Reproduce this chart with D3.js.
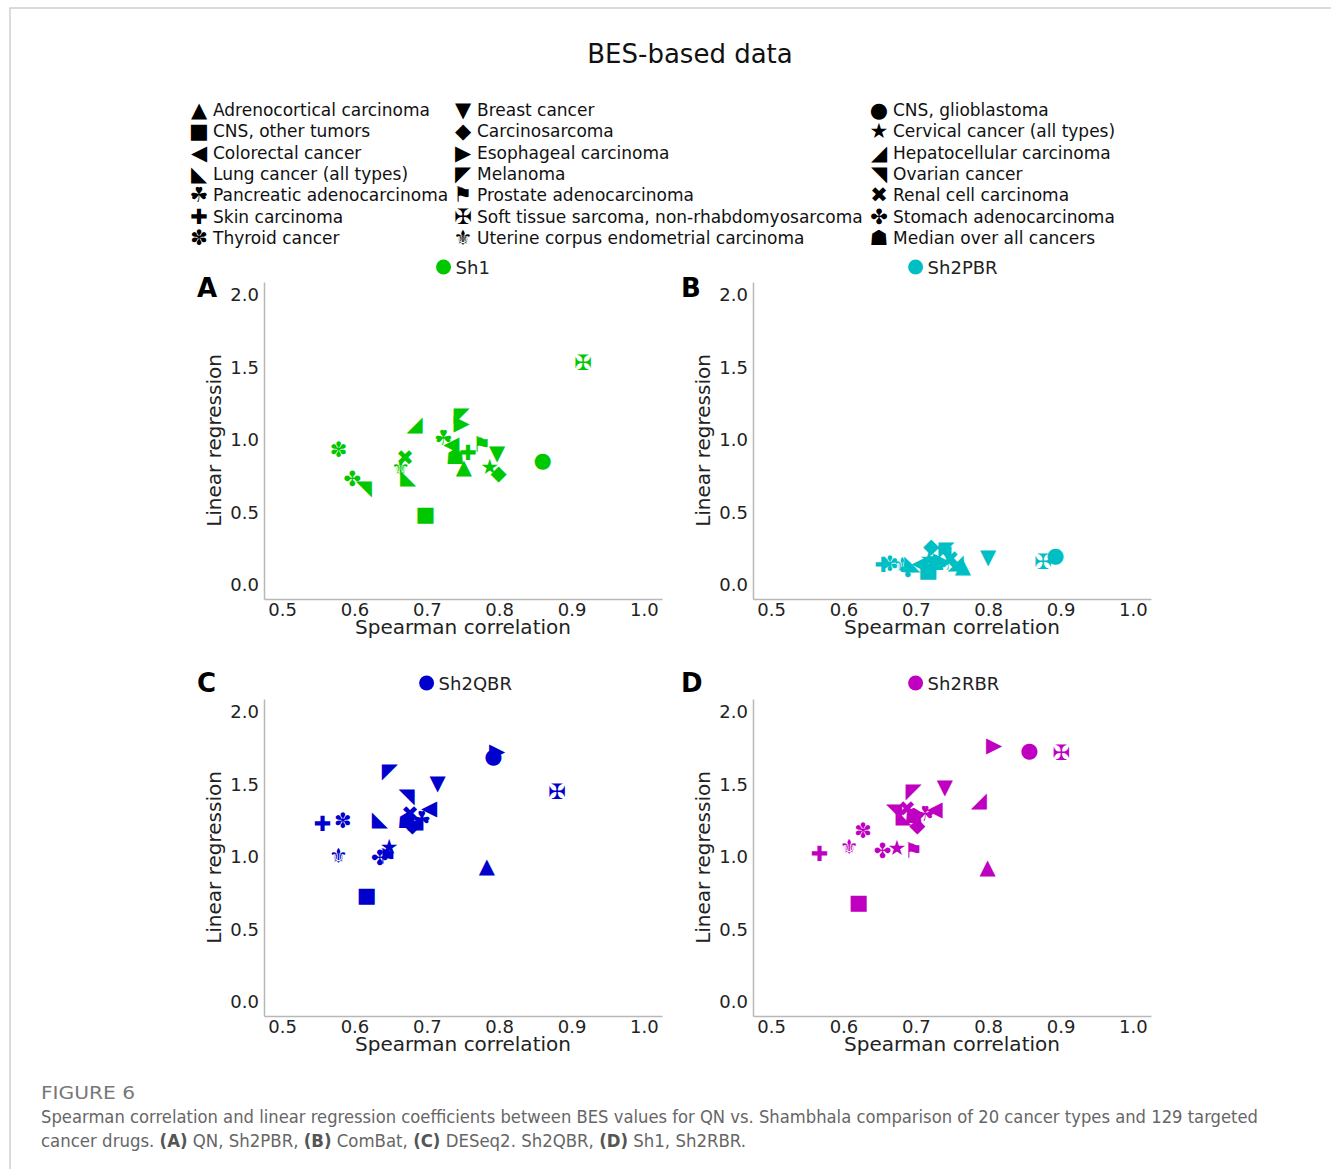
<!DOCTYPE html>
<html>
<head>
<meta charset="utf-8">
<script src="https://cdn.jsdelivr.net/npm/d3@7"></script>
<style>
  body { margin: 0; background: #fff; }
  text { font-family: "DejaVu Sans", sans-serif; }
</style>
</head>
<body>
<svg></svg>
<script>
// cancer types, in legend order (row by row, 3 per row)
let cancerTypes = [
  'Adrenocortical carcinoma', 'Breast cancer', 'CNS, glioblastoma',
  'CNS, other tumors', 'Carcinosarcoma', 'Cervical cancer (all types)',
  'Colorectal cancer', 'Esophageal carcinoma', 'Hepatocellular carcinoma',
  'Lung cancer (all types)', 'Melanoma', 'Ovarian cancer',
  'Pancreatic adenocarcinoma', 'Prostate adenocarcinoma', 'Renal cell carcinoma',
  'Skin carcinoma', 'Soft tissue sarcoma, non-rhabdomyosarcoma', 'Stomach adenocarcinoma',
  'Thyroid cancer', 'Uterine corpus endometrial carcinoma', 'Median over all cancers'
]
// one glyph per cancer type
let markerGlyphs = ['▲', '▼', '●', '■', '◆', '★', '◀', '▶', '◢', '◣', '◤', '◥',
                    '☘', '⚑', '✖', '✚', '✠', '✤', '✽', '⚜', '☗']

let seriesNames = ['Sh1', 'Sh2PBR', 'Sh2QBR', 'Sh2RBR']
let panelLetters = ['A', 'B', 'C', 'D']
let seriesColors = ['#00c800', '#00bfc4', '#0000cd', '#c000c0']

let xTicks = [0.5, 0.6, 0.7, 0.8, 0.9, 1.0]
let yTicks = [0.0, 0.5, 1.0, 1.5, 2.0]

// spearman (x) and linear regression (y) values per series
let sh1Spearman   = [0.751, 0.797, 0.860, 0.698, 0.799, 0.787, 0.734, 0.748, 0.683, 0.674, 0.748, 0.613, 0.723, 0.776, 0.670, 0.757, 0.916, 0.597, 0.578, 0.664, 0.739]
let sh1Regression = [0.816, 0.908, 0.862, 0.490, 0.775, 0.811, 0.970, 1.115, 1.110, 0.747, 1.172, 0.667, 1.012, 0.966, 0.878, 0.912, 1.533, 0.731, 0.931, 0.810, 0.885]

let sh2pbrSpearman   = [0.765, 0.800, 0.893, 0.717, 0.721, 0.718, 0.705, 0.735, 0.755, 0.695, 0.742, 0.738, 0.745, 0.728, 0.748, 0.655, 0.876, 0.689, 0.664, 0.681, 0.727]
let sh2pbrRegression = [0.130, 0.190, 0.210, 0.100, 0.270, 0.180, 0.150, 0.170, 0.160, 0.150, 0.250, 0.220, 0.150, 0.140, 0.180, 0.140, 0.160, 0.100, 0.145, 0.140, 0.150]

let sh2qbrSpearman   = [0.783, 0.715, 0.792, 0.617, 0.680, 0.648, 0.703, 0.797, 0.684, 0.635, 0.649, 0.672, 0.693, 0.646, 0.677, 0.556, 0.880, 0.635, 0.584, 0.578, 0.672]
let sh2qbrRegression = [0.940, 1.510, 1.700, 0.740, 1.220, 1.070, 1.340, 1.730, 1.250, 1.260, 1.590, 1.420, 1.260, 1.000, 1.300, 1.230, 1.450, 0.990, 1.250, 1.010, 1.250]

let sh2rbrSpearman   = [0.799, 0.740, 0.857, 0.621, 0.702, 0.674, 0.726, 0.808, 0.787, 0.683, 0.697, 0.670, 0.713, 0.697, 0.688, 0.567, 0.901, 0.654, 0.627, 0.608, 0.697]
let sh2rbrRegression = [0.929, 1.481, 1.736, 0.692, 1.221, 1.060, 1.329, 1.772, 1.393, 1.280, 1.458, 1.320, 1.297, 1.043, 1.330, 1.021, 1.715, 1.041, 1.181, 1.071, 1.280]

let spearmanSets = [sh1Spearman, sh2pbrSpearman, sh2qbrSpearman, sh2rbrSpearman]
let regressionSets = [sh1Regression, sh2pbrRegression, sh2qbrRegression, sh2rbrRegression]

let width = 1331
let height = 1169
let panelWidth = 398
let panelHeight = 317
// axis left/top corner of each panel
let panelLefts = [264, 753, 264, 753]
let panelTops = [282, 282, 699, 699]
let letterY = [297, 297, 692, 692]

let svg = d3.select('svg')

let drawCanvas = () => {
  svg.attr('width', width).attr('height', height)
  svg.append('rect').attr('width', width).attr('height', height).attr('fill', '#fff')
  // frame of the figure
  svg.append('path')
     .attr('d', 'M10,' + height + ' V8 H' + width)
     .attr('fill', 'none')
     .attr('stroke', '#cfcfcf')
     .attr('stroke-width', 1.5)

  svg.append('text')
     .attr('x', 690).attr('y', 63)
     .attr('text-anchor', 'middle')
     .attr('font-size', 26)
     .attr('fill', '#111')
     .text('BES-based data')
}

let drawLegend = () => {
  let colX = [199, 463, 879]
  let legend = svg.append('g')
  cancerTypes.forEach((name, i) => {
    let col = i % 3
    let row = Math.floor(i / 3)
    let cy = 110 + row * 21.3
    legend.append('text')
          .attr('x', colX[col]).attr('y', cy)
          .attr('text-anchor', 'middle')
          .attr('dominant-baseline', 'central')
          .attr('font-size', 21)
          .attr('fill', '#000')
          .text(markerGlyphs[i])
    legend.append('text')
          .attr('x', colX[col] + 14).attr('y', cy + 6)
          .attr('font-size', 17)
          .attr('fill', '#111')
          .text(name)
  })
}

let drawPanel = (p) => {
  let left = panelLefts[p]
  let top = panelTops[p]
  let color = seriesColors[p]

  let xScale = d3.scaleLinear()
                 .domain([0.475, 1.025])
                 .range([left, left + panelWidth])
  let yScale = d3.scaleLinear()
                 .domain([-0.097, 2.09])
                 .range([top + panelHeight, top])

  let xAxis = d3.axisBottom(xScale).tickValues(xTicks).tickFormat(d3.format('.1f'))
                .tickSize(0).tickSizeOuter(0).tickPadding(4)
  let yAxis = d3.axisLeft(yScale).tickValues(yTicks).tickFormat(d3.format('.1f'))
                .tickSize(0).tickSizeOuter(0).tickPadding(5)

  let gx = svg.append('g')
              .attr('transform', 'translate(0,' + (top + panelHeight) + ')')
              .call(xAxis)
  let gy = svg.append('g')
              .attr('transform', 'translate(' + left + ',0)')
              .call(yAxis)
  ;[gx, gy].forEach((g) => {
    g.select('.domain').attr('stroke', '#b8b8b8').attr('stroke-width', 1.5)
    g.selectAll('text').attr('font-size', 18).attr('fill', '#222')
     .attr('font-family', '"DejaVu Sans", sans-serif')
  })

  svg.append('text')
     .attr('x', left + panelWidth / 2).attr('y', top + panelHeight + 35)
     .attr('text-anchor', 'middle')
     .attr('font-size', 20).attr('fill', '#222')
     .text('Spearman correlation')
  svg.append('text')
     .attr('transform', 'translate(' + (left - 43) + ',' + (top + panelHeight / 2) + ') rotate(-90)')
     .attr('text-anchor', 'middle')
     .attr('font-size', 20).attr('fill', '#222')
     .text('Linear regression')

  // panel letter
  svg.append('text')
     .attr('x', left - (p % 2 === 0 ? 67 : 72)).attr('y', letterY[p])
     .attr('font-family', '"Liberation Sans", Arial, sans-serif')
     .attr('font-weight', 'bold')
     .attr('font-size', 26).attr('fill', '#000')
     .text(panelLetters[p])

  // series label on top
  let labelY = p < 2 ? 267 : 683
  let cx = left + panelWidth / 2
  let nameWidth = seriesNames[p].length * 11.3
  let startX = cx - (nameWidth + 19) / 2
  svg.append('circle')
     .attr('cx', startX + 7).attr('cy', labelY)
     .attr('r', 7.5).attr('fill', color)
  svg.append('text')
     .attr('x', startX + 19).attr('y', labelY + 7)
     .attr('font-size', 18).attr('fill', '#222')
     .text(seriesNames[p])

  let points = cancerTypes.map((name, i) => {
    return { glyph: markerGlyphs[i], x: spearmanSets[p][i], y: regressionSets[p][i] }
  })

  svg.append('g')
     .selectAll('text')
     .data(points)
     .enter()
     .append('text')
     .attr('x', (d) => xScale(d.x))
     .attr('y', (d) => yScale(d.y))
     .attr('text-anchor', 'middle')
     .attr('dominant-baseline', 'central')
     .attr('font-size', 21)
     .attr('fill', color)
     .text((d) => d.glyph)
}

let drawCaption = () => {
  svg.append('text')
     .attr('x', 41).attr('y', 1099)
     .attr('font-family', '"Open Sans", sans-serif')
     .attr('font-size', 17).attr('fill', '#777')
     .attr('textLength', 94).attr('lengthAdjust', 'spacingAndGlyphs')
     .text('FIGURE 6')
  svg.append('text')
     .attr('x', 41).attr('y', 1123)
     .attr('font-family', '"Open Sans", sans-serif')
     .attr('font-size', 17).attr('fill', '#666')
     .attr('textLength', 1217).attr('lengthAdjust', 'spacingAndGlyphs')
     .text('Spearman correlation and linear regression coefficients between BES values for QN vs. Shambhala comparison of 20 cancer types and 129 targeted')

  let line2 = svg.append('text')
                 .attr('x', 41).attr('y', 1147)
                 .attr('font-family', '"Open Sans", sans-serif')
                 .attr('font-size', 17).attr('fill', '#666')
                 .attr('textLength', 705).attr('lengthAdjust', 'spacingAndGlyphs')
  let parts = [['cancer drugs. ', false], ['(A)', true], [' QN, Sh2PBR, ', false], ['(B)', true],
               [' ComBat, ', false], ['(C)', true], [' DESeq2. Sh2QBR, ', false], ['(D)', true],
               [' Sh1, Sh2RBR.', false]]
  parts.forEach((part) => {
    line2.append('tspan')
         .attr('font-weight', part[1] ? 'bold' : 'normal')
         .attr('fill', part[1] ? '#555' : '#666')
         .text(part[0])
  })
}

drawCanvas()
drawLegend()
for (let p = 0; p < 4; p++) {
  drawPanel(p)
}
drawCaption()
</script>
</body>
</html>
